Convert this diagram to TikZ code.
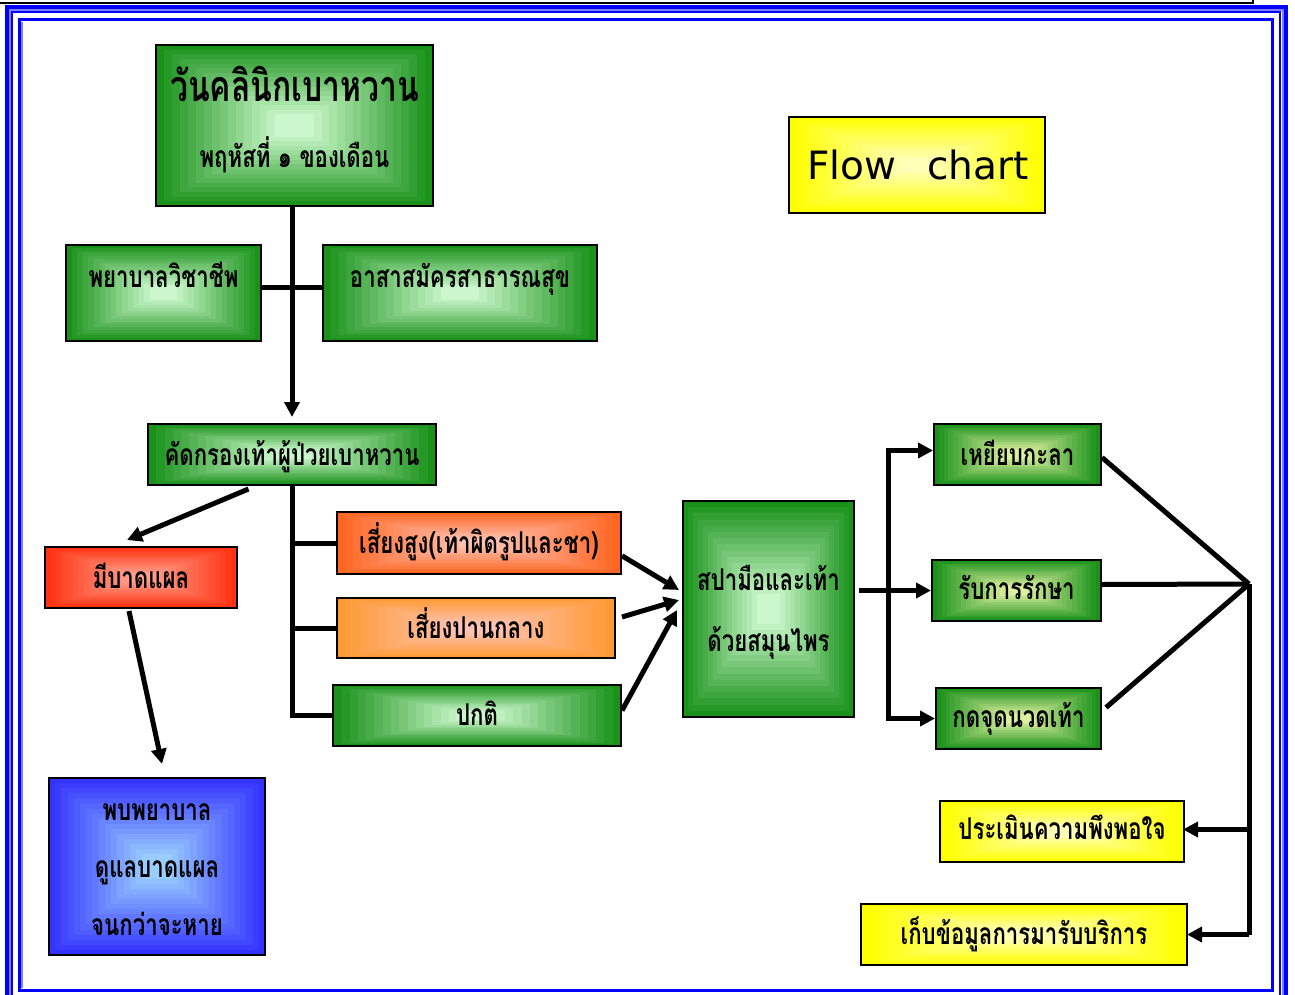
\documentclass[tikz,border=0pt]{standalone}
\usepackage{fontspec}
\newfontfamily\thai[Script=Thai,FakeStretch=0.74]{Loma}
\newfontfamily\flowfont{DejaVu Sans}
\usetikzlibrary{arrows.meta,calc}
\definecolor{gout}{HTML}{1A921A}
\definecolor{ginn}{HTML}{CCF7CC}
\definecolor{yginn}{HTML}{DDEFA0}
\definecolor{rout}{HTML}{FF3311}
\definecolor{rinn}{HTML}{FF9F8C}
\definecolor{hout}{HTML}{FF6622}
\definecolor{hinn}{HTML}{FFC0B0}
\definecolor{mout}{HTML}{FF9933}
\definecolor{minn}{HTML}{FFC4B4}
\definecolor{bout}{HTML}{3333FF}
\definecolor{binn}{HTML}{99CCFF}
\definecolor{yout}{HTML}{FFFF00}
\definecolor{yinn}{HTML}{FFFFB8}
\definecolor{fblue}{HTML}{0000FF}
\definecolor{flight}{HTML}{8080FF}
\tikzset{
  grad/.style 2 args={path picture={
    \foreach \k in {0,...,15}{
      \pgfmathsetmacro\f{\k/16*0.92}
      \pgfmathtruncatemacro\p{100*\k/15}
      \fill[#2!\p!#1] ($(path picture bounding box.south west)!\f!(path picture bounding box.center)$) rectangle ($(path picture bounding box.north east)!\f!(path picture bounding box.center)$);
    }}},
  box/.style={draw=black, line width=2pt, inner sep=0pt},
  txt/.style={font=\thai\bfseries\fontsize{30}{32}\selectfont, anchor=base, inner sep=0pt},
  bigtxt/.style={font=\thai\bfseries\fontsize{43}{45}\selectfont, anchor=base, inner sep=0pt},
  conn/.style={line width=5pt},
  arr/.style={conn, -{Triangle[length=15pt,width=15pt]}},
}
\begin{document}
\begin{tikzpicture}[x=1pt,y=-1pt]
\useasboundingbox (0,0) rectangle (1295,995);
% frame
\draw[line width=2pt] (0,3) -- (1253,3) -- (1253,-1);
\draw[fblue, line width=4pt] (7,7) rectangle (1286,1010);
\draw[flight, line width=2pt] (10,10) rectangle (1282.5,1005);
\draw[fblue, line width=2pt] (12,12) rectangle (1280,1000);
\draw[fblue, line width=3pt] (19.5,19.5) rectangle (1272.5,990);
\draw[flight, line width=1.5pt] (22,22) -- (22,988);

% boxes
\node[box, grad={gout}{ginn}, minimum width=277pt, minimum height=161pt] (top) at (294.5,125.5) {};
\node[bigtxt] (topt1) at (294.5,102) {วันคลินิกเบาหวาน};
\node[txt] (topt2) at (294.5,168) {พฤหัสที่ ๑ ของเดือน};

\node[box, grad={gout}{ginn}, minimum width=195pt, minimum height=96pt] (nurse) at (163.5,293) {};
\node[txt] (nurset) at (163.5,287) {พยาบาลวิชาชีพ};
\node[box, grad={gout}{ginn}, minimum width=274pt, minimum height=96pt] (vol) at (460,293) {};
\node[txt] (volt) at (460,287) {อาสาสมัครสาธารณสุข};

\node[box, grad={gout}{ginn}, minimum width=288pt, minimum height=61pt] (screen) at (292,454.5) {};
\node[txt] (screent) at (292,465) {คัดกรองเท้าผู้ป่วยเบาหวาน};

\node[box, grad={rout}{rinn}, minimum width=192pt, minimum height=61pt] (wound) at (141,577.5) {};
\node[txt] (woundt) at (141,588) {มีบาดแผล};

\node[box, grad={hout}{hinn}, minimum width=284pt, minimum height=62pt] (high) at (479,543) {};
\node[txt] (hight) at (479,553) {เสี่ยงสูง(เท้าผิดรูปและชา)};
\node[box, grad={mout}{minn}, minimum width=278pt, minimum height=60pt] (mid) at (476,628) {};
\node[txt] (midt) at (476,638) {เสี่ยงปานกลาง};
\node[box, grad={gout}{ginn}, minimum width=288pt, minimum height=61pt] (normal) at (477,715.5) {};
\node[txt] (normalt) at (477,725) {ปกติ};

\node[box, grad={gout}{ginn}, minimum width=171pt, minimum height=216pt] (spa) at (768.5,609) {};
\node[txt] (spat1) at (768.5,590) {สปามือและเท้า};
\node[txt] (spat2) at (768.5,651) {ด้วยสมุนไพร};

\node[box, grad={gout}{yginn}, minimum width=167pt, minimum height=61pt] (kala) at (1017.5,454.5) {};
\node[txt] (kalat) at (1017.5,465) {เหยียบกะลา};
\node[box, grad={gout}{yginn}, minimum width=169pt, minimum height=61pt] (treat) at (1016.5,590.5) {};
\node[txt] (treatt) at (1016.5,599) {รับการรักษา};
\node[box, grad={gout}{yginn}, minimum width=165pt, minimum height=61pt] (press) at (1018.5,718.5) {};
\node[txt] (presst) at (1018.5,727) {กดจุดนวดเท้า};

\node[box, grad={yout}{yinn}, minimum width=244pt, minimum height=61pt] (eval) at (1062,831.5) {};
\node[txt] (evalt) at (1062,839) {ประเมินความพึงพอใจ};
\node[box, grad={yout}{yinn}, minimum width=326pt, minimum height=61pt] (data) at (1024,934.5) {};
\node[txt] (datat) at (1024,944) {เก็บข้อมูลการมารับบริการ};

\node[box, grad={bout}{binn}, minimum width=216pt, minimum height=177pt] (blue) at (157,866.5) {};
\node[txt] (bluet1) at (157,820) {พบพยาบาล};
\node[txt] (bluet2) at (157,877) {ดูแลบาดแผล};
\node[txt] (bluet3) at (157,935) {จนกว่าจะหาย};

\node[box, grad={yout}{yinn}, minimum width=256pt, minimum height=96pt] (flow) at (917,165) {};
\node[font=\flowfont\fontsize{39}{41}\selectfont, anchor=base, inner sep=0pt] (flowt) at (918,179) {Flow\hspace{0.8em}chart};

% connectors
\coordinate (tx) at (292,0);
\draw[arr, shorten >=6pt] (tx |- top.south) -- (tx |- screen.north);
\draw[conn] (nurse.east |- 0,287) -- (vol.west |- 0,287);

\draw[arr] ($(screen.south west)!0.35!(screen.south east)+(0,3)$) -- ($(wound.north)+(-14,-6)$);
\draw[arr] ($(wound.south)+(-12,2)$) -- ($(blue.north)+(5,-13)$);

\draw[conn] (tx |- screen.south) -- (tx |- normal.west) -- (normal.west);
\draw[conn] (tx |- high.west) -- (high.west);
\draw[conn] (tx |- mid.west) -- (mid.west);

\draw[arr] ($(high.south east)!0.3!(high.north east)$) -- ($(spa.west)+(-3,-19)$);
\draw[arr] ($(mid.east)+(6,-11)$) -- ($(spa.west)+(-3,-9)$);
\draw[arr] ($(normal.east)+(0,-5)$) -- ($(spa.west)+(-5,1)$);

\coordinate (rx) at (888,0);
\draw[arr] ($(spa.east |- treat.west)+(4,0)$) -- (treat.west);
\draw[conn, {Triangle[length=15pt,width=15pt]}-{Triangle[length=15pt,width=15pt]}] ($(kala.west)+(0,-4)$) -- ($(rx |- kala.west)+(0,-4)$) -- (rx |- press.west) -- (press.west);

\coordinate (hub) at (1249,584);
\draw[conn] ($(kala.east)+(0,3)$) -- (hub);
\draw[conn] ($(treat.east)+(0,-6)$) -- (hub);
\draw[conn] ($(press.east)+(4,-11)$) -- (hub);
\draw[conn] (hub) -- (hub |- data.east);
\draw[arr, shorten >=-2pt] ($(hub |- eval.east)+(0,-2)$) -- ($(eval.east)+(0,-2)$);
\draw[arr, shorten >=-1pt] (hub |- data.east) -- (data.east);
\end{tikzpicture}
\end{document}
